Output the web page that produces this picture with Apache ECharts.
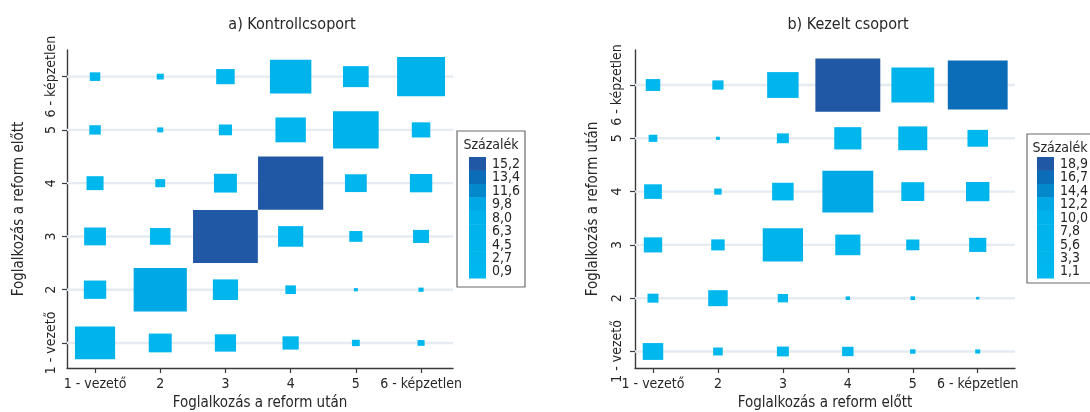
<!DOCTYPE html>
<html>
<head>
<meta charset="utf-8">
<script src="https://cdn.jsdelivr.net/npm/echarts@6/dist/echarts.min.js"></script>
<style>
  html, body { margin: 0; padding: 0; background: #fff; }
  #chart { width: 1090px; height: 412px; }
</style>
</head>
<body>
<div id="chart"></div>
<script>
// Occupation categories (1 = leader ... 6 = unskilled)
const categories = ['1 - vezető', '2', '3', '4', '5', '6 - képzetlen'];

// Control group: rows = occupation before reform (1..6), columns = occupation after reform (1..6), percent
const kontrollRow1 = [6.1, 2.0, 1.7, 1.0, 0.23, 0.19];
const kontrollRow2 = [1.9, 10.7, 2.4, 0.42, 0.06, 0.10];
const kontrollRow3 = [1.8, 1.6, 15.9, 2.4, 0.66, 0.97];
const kontrollRow4 = [1.1, 0.37, 2.0, 16.1, 1.8, 1.9];
const kontrollRow5 = [0.5, 0.14, 0.66, 3.5, 7.9, 1.3];
const kontrollRow6 = [0.42, 0.19, 1.3, 6.5, 2.5, 8.7];

// Treated group: rows = occupation after reform (1..6), columns = occupation before reform (1..6), percent
const kezeltRow1 = [2.0, 0.44, 0.68, 0.62, 0.14, 0.12];
const kezeltRow2 = [0.57, 1.8, 0.5, 0.09, 0.1, 0.05];
const kezeltRow3 = [1.6, 0.86, 7.7, 3.0, 0.82, 1.4];
const kezeltRow4 = [1.5, 0.26, 2.2, 12.3, 2.5, 2.6];
const kezeltRow5 = [0.36, 0.07, 0.68, 3.5, 4.0, 2.0];
const kezeltRow6 = [1.0, 0.6, 4.7, 20.0, 8.7, 17.0];

// Colour-key labels (bin midpoints), lowest first
const kontrollKey = ['0,9', '2,7', '4,5', '6,3', '8,0', '9,8', '11,6', '13,4', '15,2'];
const kezeltKey = ['1,1', '3,3', '5,6', '7,8', '10,0', '12,2', '14,4', '16,7', '18,9'];

// Bin colours, lowest first
const binColors = ['#00b7ee', '#00b6ed', '#00b5ec', '#00b4eb', '#00b2ea', '#00a9e5', '#0389cb', '#0b6db7', '#2158a6'];

const FONT = '"DejaVu Sans Condensed", "Liberation Sans Narrow", sans-serif';
const TXT = '#262626';
const AXIS = '#3a3a3a';

function toData(rows) {
  const out = [];
  rows.forEach((row, yi) => row.forEach((v, xi) => out.push([xi + 1, yi + 1, v])));
  return out;
}
const kontrollData = toData([kontrollRow1, kontrollRow2, kontrollRow3, kontrollRow4, kontrollRow5, kontrollRow6]);
const kezeltData = toData([kezeltRow1, kezeltRow2, kezeltRow3, kezeltRow4, kezeltRow5, kezeltRow6]);

const num = s => parseFloat(s.replace(',', '.'));

// Equal-width colour bins centred on the key labels
function binEdges(key) {
  const vals = key.map(num);
  const n = vals.length;
  const step = (vals[n - 1] - vals[0]) / (n - 1);
  const edges = [];
  for (let k = 0; k <= n; k++) edges.push(vals[0] - step / 2 + k * step);
  return edges;
}
function pieces(key) {
  const e = binEdges(key);
  return key.map((_, i) => {
    const p = { color: binColors[i] };
    if (i > 0) p.gte = e[i];
    if (i < key.length - 1) p.lt = e[i + 1];
    return p;
  });
}
const maxEdge = key => binEdges(key)[key.length];

// Rectangles whose area (relative to a full cell) follows the value
function rectRenderer(vmax) {
  return function (params, api) {
    const v = api.value(2);
    const c = api.coord([api.value(0), api.value(1)]);
    const unit = api.size([1, 1]);
    const s = Math.sqrt(v / vmax);
    const w = unit[0] * s, h = unit[1] * s;
    return {
      type: 'rect',
      shape: { x: c[0] - w / 2, y: c[1] - h / 2, width: w, height: h },
      style: { fill: api.visual('color') }
    };
  };
}

// Horizontal guide lines across the plot at each category row
function guideRenderer(params, api) {
  const cs = params.coordSys;
  const y = api.coord([1, api.value(0)])[1];
  return {
    type: 'line',
    shape: { x1: cs.x, y1: y, x2: cs.x + cs.width, y2: y },
    style: { stroke: '#e5ebf0', lineWidth: 2.4 }
  };
}

const tickValues = categories.map((c, i) => i + 1);

function makeXAxis(gridIndex, min, max, name) {
  return {
    type: 'value', gridIndex, min, max,
    name, nameLocation: 'middle', nameGap: 28,
    nameTextStyle: { fontFamily: FONT, fontSize: 15, color: TXT },
    axisLine: { show: true, onZero: false, lineStyle: { color: AXIS, width: 1.4 } },
    axisTick: { show: true, length: 5, customValues: tickValues, lineStyle: { color: AXIS, width: 1.2 } },
    axisLabel: {
      customValues: tickValues, margin: 9,
      fontFamily: FONT, fontSize: 14, color: TXT,
      formatter: v => categories[Math.round(v) - 1] || ''
    },
    splitLine: { show: false }
  };
}
function makeYAxis(gridIndex, min, max, name, nameGap, margin) {
  return {
    type: 'value', gridIndex, min, max,
    name, nameLocation: 'middle', nameGap,
    nameTextStyle: { fontFamily: FONT, fontSize: 15, color: TXT },
    axisLine: { show: true, onZero: false, lineStyle: { color: AXIS, width: 1.4 } },
    axisTick: { show: true, length: 5, customValues: tickValues, lineStyle: { color: AXIS, width: 1.2 } },
    axisLabel: {
      customValues: tickValues, margin, rotate: 90,
      fontFamily: FONT, fontSize: 14, color: TXT,
      formatter: v => categories[Math.round(v) - 1] || ''
    },
    splitLine: { show: false }
  };
}

// Colour key drawn as a framed box with stacked bins
function keyGraphic(key, box, barX, labelX, titleX) {
  const els = [];
  els.push({
    type: 'rect', shape: { x: box.x, y: box.y, width: box.w, height: box.h },
    style: { fill: '#fff', stroke: '#6b6b6b', lineWidth: 1.2 }, z: 10
  });
  els.push({
    type: 'text', x: titleX, y: box.y + 14,
    style: { text: 'Százalék', font: '14px ' + FONT, fill: TXT, align: 'center', verticalAlign: 'middle' }, z: 11
  });
  const top = 157, bottom = 278, n = key.length;
  const bh = (bottom - top) / n;
  for (let i = 0; i < n; i++) {
    const k = n - 1 - i; // highest bin at the top
    els.push({
      type: 'rect', shape: { x: barX, y: top + i * bh, width: 17, height: bh + 0.5 },
      style: { fill: binColors[k] }, z: 11
    });
    els.push({
      type: 'text', x: labelX, y: top + i * bh + bh / 2 + 0.5,
      style: { text: key[k], font: '14px ' + FONT, fill: TXT, align: 'left', verticalAlign: 'middle' }, z: 11
    });
  }
  return els;
}

const chart = echarts.init(document.getElementById('chart'), null, { renderer: 'canvas' });

chart.setOption({
  animation: false,
  backgroundColor: '#fff',
  title: [
    { text: 'a) Kontrollcsoport', left: 287, top: 12, textAlign: 'center',
      textStyle: { fontFamily: FONT, fontSize: 16, fontWeight: 'normal', color: TXT } },
    { text: 'b) Kezelt csoport', left: 843, top: 12, textAlign: 'center',
      textStyle: { fontFamily: FONT, fontSize: 16, fontWeight: 'normal', color: TXT } }
  ],
  grid: [
    { left: 67, top: 50, width: 386, height: 318, outerBoundsMode: 'none', containLabel: false },
    { left: 635, top: 50, width: 380, height: 318, outerBoundsMode: 'none', containLabel: false }
  ],
  xAxis: [
    makeXAxis(0, 0.57, 6.49, 'Foglalkozás a reform után'),
    makeXAxis(1, 0.723, 6.574, 'Foglalkozás a reform előtt')
  ],
  yAxis: [
    makeYAxis(0, 0.53, 6.5, 'Foglalkozás a reform előtt', 40, 9),
    makeYAxis(1, 0.69, 6.657, 'Foglalkozás a reform után', 34, 11)
  ],
  visualMap: [
    { type: 'piecewise', show: false, dimension: 2, seriesIndex: 2, pieces: pieces(kontrollKey) },
    { type: 'piecewise', show: false, dimension: 2, seriesIndex: 3, pieces: pieces(kezeltKey) }
  ],
  series: [
    { type: 'custom', xAxisIndex: 0, yAxisIndex: 0, renderItem: guideRenderer,
      data: tickValues.map(v => [v]), encode: { y: 0 }, z: 1, silent: true },
    { type: 'custom', xAxisIndex: 1, yAxisIndex: 1, renderItem: guideRenderer,
      data: tickValues.map(v => [v]), encode: { y: 0 }, z: 1, silent: true },
    { type: 'custom', xAxisIndex: 0, yAxisIndex: 0, renderItem: rectRenderer(maxEdge(kontrollKey)),
      data: kontrollData, encode: { x: 0, y: 1 }, z: 3 },
    { type: 'custom', xAxisIndex: 1, yAxisIndex: 1, renderItem: rectRenderer(maxEdge(kezeltKey)),
      data: kezeltData, encode: { x: 0, y: 1 }, z: 3 }
  ],
  graphic: [
    ...keyGraphic(kontrollKey, { x: 457, y: 131, w: 68, h: 156 }, 469, 492, 491),
    ...keyGraphic(kezeltKey, { x: 1027, y: 134, w: 70, h: 149 }, 1037, 1060, 1060)
  ]
});
</script>
</body>
</html>
